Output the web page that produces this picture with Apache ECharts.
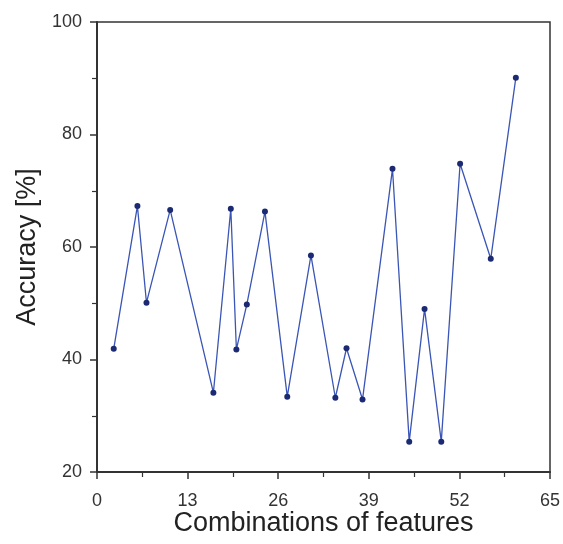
<!DOCTYPE html>
<html><head><meta charset="utf-8">
<script src="https://cdn.jsdelivr.net/npm/echarts@6/dist/echarts.min.js"></script>
<style>html,body{margin:0;padding:0;background:#fff}#c{width:563px;height:544px}</style>
</head><body><div id="c"></div>
<script>
const xValues = [2.4, 5.8, 7.1, 10.5, 16.7, 19.2, 20.0, 21.5, 24.1, 27.3, 30.7, 34.2, 35.8, 38.1, 42.4, 44.8, 47.0, 49.4, 52.1, 56.5, 60.1];
const accuracy = [41.9, 67.3, 50.1, 66.6, 34.1, 66.8, 41.8, 49.8, 66.3, 33.4, 58.5, 33.2, 42.0, 32.9, 73.9, 25.4, 49.0, 25.4, 74.8, 57.9, 90.1];
const xTicks = [0, 13, 26, 39, 52, 65];
const yTicks = [20, 40, 60, 80, 100];

const data = xValues.map((x, i) => [x, accuracy[i]]);
const font = 'Liberation Sans, Arial, sans-serif';
const chart = echarts.init(document.getElementById('c'));
chart.setOption({
  animation: false,
  grid: {left: 97, right: 13, top: 22, bottom: 72, outerBoundsMode: 'none', containLabel: false, show: true, borderColor: '#333', borderWidth: 1.5, backgroundColor: 'transparent'},
  xAxis: {
    type: 'value', min: xTicks[0], max: xTicks[xTicks.length-1], interval: 13,
    name: 'Combinations of features', nameLocation: 'middle', nameGap: 38, nameMoveOverlap: false,
    nameTextStyle: {fontFamily: font, fontSize: 27, color: '#222'},
    axisLine: {show: true, lineStyle: {color: '#333', width: 2}},
    axisTick: {show: true, inside: false, length: 7, lineStyle: {color: '#333', width: 1.5}},
    minorTick: {show: true, splitNumber: 2, length: 5, lineStyle: {color: '#333', width: 1.2}},
    axisLabel: {fontFamily: font, fontSize: 18, color: '#333', margin: 20},
    splitLine: {show: false}
  },
  yAxis: {
    type: 'value', min: yTicks[0], max: yTicks[yTicks.length-1], interval: 20,
    name: 'Accuracy [%]', nameLocation: 'middle', nameGap: 56, nameMoveOverlap: false,
    nameTextStyle: {fontFamily: font, fontSize: 27, color: '#222'},
    axisLine: {show: true, lineStyle: {color: '#333', width: 2}},
    axisTick: {show: true, inside: false, length: 7, lineStyle: {color: '#333', width: 1.5}},
    minorTick: {show: true, splitNumber: 2, length: 5, lineStyle: {color: '#333', width: 1.2}},
    axisLabel: {fontFamily: font, fontSize: 18, color: '#333', margin: 15},
    splitLine: {show: false}
  },
  series: [{
    type: 'line', data: data,
    symbol: 'circle', symbolSize: 6,
    lineStyle: {color: '#3a55b5', width: 1.3},
    itemStyle: {color: '#1b2a72'}
  }]
});
</script></body></html>
